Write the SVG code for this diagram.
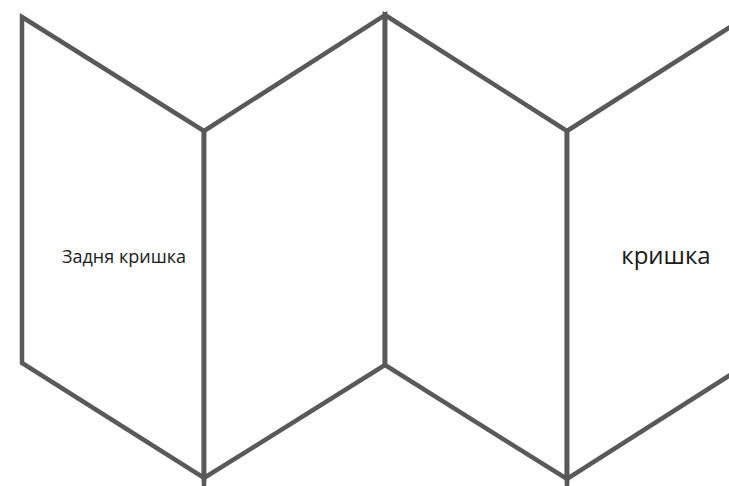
<svg xmlns="http://www.w3.org/2000/svg" width="729" height="486" viewBox="0 0 729 486">
<style>
.panel{fill:#fff;stroke:#595959;stroke-width:4.5;stroke-linejoin:miter}
.fold{stroke:#595959;stroke-width:4.5;fill:none}
text{font-family:"Open Sans","Noto Sans",sans-serif;fill:#1a1a1a;text-anchor:middle}
</style>
<rect width="729" height="486" fill="#fff"/>
<g id="panel1"><polygon class="panel" points="22,17 204,131 204,478 22,363"/><text x="124" y="263" font-size="18">Задня кришка</text></g>
<g id="panel2"><polygon class="panel" points="204,131 385,15 385,365 204,478"/></g>
<g id="panel3"><polygon class="panel" points="385,15 567,131 567,479 385,365"/></g>
<g id="panel4"><polygon class="panel" points="567,131 749,15 749,363 567,479"/><text x="666" y="264" font-size="24">кришка</text></g>
<g id="connectors"><line class="fold" x1="204" y1="131" x2="204" y2="486"/><line class="fold" x1="385" y1="12" x2="385" y2="365"/><line class="fold" x1="567" y1="131" x2="567" y2="486"/></g>
</svg>
